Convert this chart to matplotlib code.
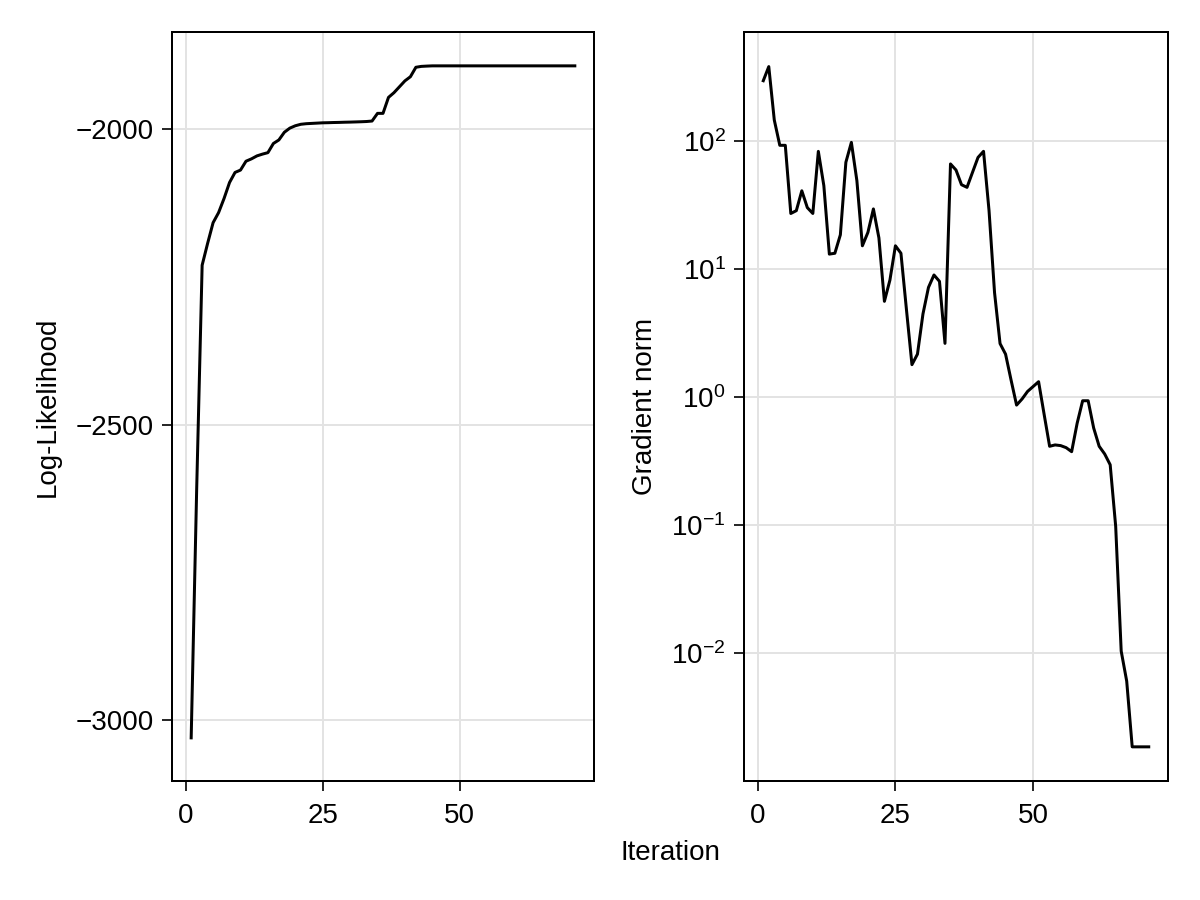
import matplotlib
matplotlib.use("Agg")
import matplotlib.pyplot as plt
import numpy as np

plt.rcParams['font.family'] = ['Liberation Sans', 'DejaVu Sans']
plt.rcParams['mathtext.fontset'] = 'custom'
plt.rcParams['mathtext.rm'] = 'Liberation Sans'
plt.rcParams['mathtext.it'] = 'Liberation Sans:italic'
plt.rcParams['mathtext.bf'] = 'Liberation Sans:bold'

# ---- data ----
loglik = [
    -3030, -2610, -2230, -2193, -2158, -2141, -2117, -2090, -2073, -2069,
    -2054, -2050, -2045, -2042, -2039.5, -2024, -2018, -2005, -1998, -1994,
    -1991.5, -1990.5, -1990, -1989.5, -1989, -1988.8, -1988.5, -1988.3, -1988, -1987.8,
    -1987.5, -1987.2, -1986.8, -1986, -1973, -1973, -1946, -1938, -1928, -1918,
    -1911, -1895, -1893.5, -1893,
] + [-1892.6] * 27

grad_norm = [
    294, 379, 145, 92, 92, 27, 28.4, 40.6, 30, 27,
    82.5, 44.5, 13.0, 13.2, 18.4, 67.8, 97, 48.7, 15.1, 19.2,
    29.3, 17.4, 5.56, 8.15, 15.1, 13.2, 4.8, 1.78, 2.15, 4.43,
    7.14, 8.93, 7.96, 2.61, 65.8, 59, 45.3, 43.2, 56.6, 74,
    82.6, 28.4, 6.5, 2.6, 2.15, 1.35, 0.86, 0.96, 1.10, 1.2,
    1.31, 0.73, 0.41, 0.42, 0.415, 0.40, 0.372, 0.62, 0.93, 0.93,
    0.57, 0.41, 0.357, 0.294, 0.097, 0.0103, 0.006, 0.00184, 0.00184, 0.00184,
    0.00184,
]

iterations = list(range(1, len(loglik) + 1))

x_ticks = [0, 25, 50]
ll_ticks = [-3000, -2500, -2000]
ll_tick_labels = ['\u22123000', '\u22122500', '\u22122000']
gn_ticks = [1e-2, 1e-1, 1e0, 1e1, 1e2]
gn_tick_labels = [r'$10^{-2}$', r'$10^{-1}$', r'$10^{0}$', r'$10^{1}$', r'$10^{2}$']

# ---- figure ----
W, H = 1200, 900
fig = plt.figure(figsize=(12, 9), dpi=100)

def frac(x0, y0, x1, y1):
    return [x0 / W, 1 - y1 / H, (x1 - x0) / W, (y1 - y0) / H]

ax1 = fig.add_axes(frac(172, 32, 594, 781))
ax2 = fig.add_axes(frac(744, 32, 1168, 781))

FS = 20
lw_line = 2.16
lw_spine = 1.44
grid_col = '#e3e3e3'

for ax in (ax1, ax2):
    for s in ax.spines.values():
        s.set_linewidth(lw_spine)
        s.set_color('black')
    ax.tick_params(axis='both', which='major', direction='out', length=7.2, width=1.2,
                   labelsize=FS, color='black',
                   grid_color=grid_col, grid_linewidth=1.44, grid_alpha=1.0)
    ax.tick_params(axis='x', pad=8.5)
    ax.tick_params(axis='y', pad=6.0)
    ax.tick_params(axis='both', which='minor', length=0)
    ax.set_axisbelow(True)

ax1.plot(iterations, loglik, color='black', linewidth=lw_line, zorder=3)
ax1.set_xlim(-2.5, 74.5)
ax1.set_ylim(-3103, -1835.3)
ax1.set_xticks(x_ticks)
ax1.set_yticks(ll_ticks)
ax1.set_yticklabels(ll_tick_labels)
ax1.grid(True, color=grid_col, linewidth=1.44)
ax1.set_ylabel('Log-Likelihood', fontsize=FS)
ax1.yaxis.set_label_coords((61 - 172) / 422, 0.5)

ax2.plot(iterations, grad_norm, color='black', linewidth=lw_line, zorder=3)
ax2.set_yscale('log')
ax2.set_xlim(-2.5, 74.5)
ax2.set_ylim(10 ** -3.002, 10 ** 2.849)
ax2.set_xticks(x_ticks)
ax2.yaxis.set_major_locator(matplotlib.ticker.FixedLocator(gn_ticks))
ax2.yaxis.set_minor_locator(matplotlib.ticker.NullLocator())
ax2.set_yticklabels(gn_tick_labels)
ax2.grid(True, which='major', color=grid_col, linewidth=1.44)
ax2.grid(False, which='minor')
ax2.set_ylabel('Gradient norm', fontsize=FS)
ax2.yaxis.set_label_coords((658 - 744) / 424, 0.5)

fig.text(670 / W, 1 - 853 / H, 'Iteration', ha='center', va='center', fontsize=FS)

fig.savefig('out.png', dpi=100, facecolor='white')
